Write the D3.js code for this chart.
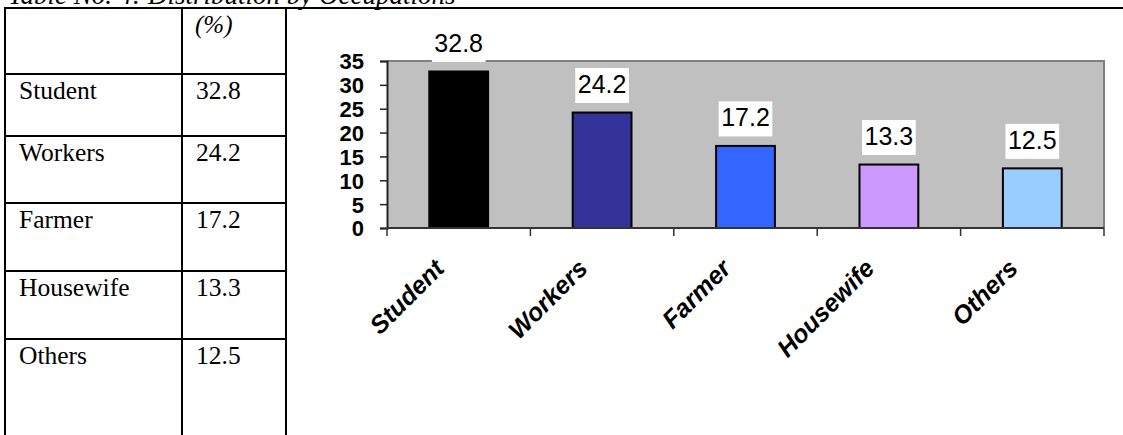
<!DOCTYPE html>
<html>
<head>
<meta charset="utf-8">
<script src="https://cdn.jsdelivr.net/npm/d3@7"></script>
<style>
html,body{margin:0;padding:0;background:#fff;}
svg{display:block;}
</style>
</head>
<body>
<svg id="chart" width="1123" height="435"></svg>
<script>
const titleText = "Table No. 4: Distribution by Occupations";
const unitLabel = "(%)";
const categories = ["Student", "Workers", "Farmer", "Housewife", "Others"];
const values = [32.8, 24.2, 17.2, 13.3, 12.5];
const barColors = ["#000000", "#333399", "#3366FF", "#CC99FF", "#99CCFF"];
const yTicks = [0, 5, 10, 15, 20, 25, 30, 35];

const svg = d3.select("#chart");
const serif = "'Liberation Serif','Times New Roman',serif";
const sans = "'Liberation Sans',Arial,sans-serif";

// ---------- title (mostly above the top edge, as in the reference) ----------
svg.append("text")
  .attr("x", 8).attr("y", 4)
  .attr("font-family", serif)
  .attr("font-style", "italic")
  .attr("font-size", 27)
  .attr("fill", "#000")
  .text(titleText);

// ---------- table ----------
const tableTop = 8, tableLeft = 5, colDiv = 182, colRight = 286;
const rowLines = [74, 136, 203, 271, 339];

svg.append("line").attr("x1", tableLeft - 1).attr("x2", 1123)
  .attr("y1", tableTop).attr("y2", tableTop)
  .attr("stroke", "#000").attr("stroke-width", 2);
[tableLeft, colDiv, colRight].forEach(x => {
  svg.append("line").attr("x1", x).attr("x2", x)
    .attr("y1", tableTop).attr("y2", 435)
    .attr("stroke", "#000").attr("stroke-width", 2);
});
rowLines.forEach(y => {
  svg.append("line").attr("x1", tableLeft).attr("x2", colRight)
    .attr("y1", y).attr("y2", y)
    .attr("stroke", "#000").attr("stroke-width", 2);
});
svg.append("text").attr("x", 195).attr("y", 33)
  .attr("font-family", serif).attr("font-style", "italic")
  .attr("font-size", 25).text(unitLabel);

categories.forEach((c, i) => {
  const base = rowLines[i] + 24.5;
  svg.append("text").attr("x", 19).attr("y", base)
    .attr("font-family", serif).attr("font-size", 25.5).text(c);
  svg.append("text").attr("x", 196).attr("y", base)
    .attr("font-family", serif).attr("font-size", 25.5).text(values[i].toFixed(1));
});

// ---------- chart ----------
const plot = {left: 387, right: 1104, top: 61, bottom: 228};

const x = d3.scaleBand().domain(categories)
  .range([plot.left, plot.right])
  .paddingInner(0.59).paddingOuter(0.295);
const y = d3.scaleLinear().domain([0, 35]).range([plot.bottom, plot.top]);

svg.append("rect")
  .attr("x", plot.left).attr("y", plot.top)
  .attr("width", plot.right - plot.left).attr("height", plot.bottom - plot.top)
  .attr("fill", "#C0C0C0");
svg.append("path")
  .attr("d", `M${plot.left},${plot.top}H${plot.right}V${plot.bottom}`)
  .attr("fill", "none").attr("stroke", "#808080").attr("stroke-width", 2);

svg.selectAll("rect.bar").data(categories).enter().append("rect")
  .attr("class", "bar")
  .attr("x", d => x(d))
  .attr("width", x.bandwidth())
  .attr("y", (d, i) => y(values[i]))
  .attr("height", (d, i) => y(0) - y(values[i]))
  .attr("fill", (d, i) => barColors[i])
  .attr("stroke", "#000").attr("stroke-width", 2);

const yAxis = d3.axisLeft(y).tickValues(yTicks).tickSize(7).tickPadding(16);
const gy = svg.append("g").attr("transform", `translate(${plot.left},0)`).call(yAxis);
gy.select(".domain").attr("stroke", "#222").attr("stroke-width", 2);
gy.selectAll(".tick line").attr("stroke", "#222").attr("stroke-width", 1.5);
gy.selectAll(".tick text")
  .attr("font-family", sans).attr("font-weight", "bold").attr("font-size", 22)
  .attr("fill", "#000").attr("dy", "0.36em");

const step = x.step();
const bounds = categories.map(c => x(c) - step * x.paddingInner() / 2).concat([plot.right]);
svg.append("line").attr("x1", plot.left).attr("x2", plot.right)
  .attr("y1", plot.bottom).attr("y2", plot.bottom)
  .attr("stroke", "#333").attr("stroke-width", 2);
svg.selectAll("line.xtick").data(bounds).enter().append("line")
  .attr("class", "xtick")
  .attr("x1", d => d).attr("x2", d => d)
  .attr("y1", plot.bottom).attr("y2", plot.bottom + 8)
  .attr("stroke", "#333").attr("stroke-width", 1.5);

svg.selectAll("text.xlab").data(categories).enter().append("text")
  .attr("class", "xlab")
  .attr("transform", d => `translate(${x(d) + x.bandwidth() / 2 - 13},270) rotate(-45)`)
  .attr("text-anchor", "end")
  .attr("font-family", sans).attr("font-weight", "bold").attr("font-style", "italic")
  .attr("font-size", 25).attr("fill", "#000")
  .text(d => d);

const fs = 25;
const lab = svg.selectAll("g.vlab").data(categories).enter().append("g").attr("class", "vlab");
lab.each(function(d, i) {
  const g = d3.select(this);
  const cx = x(d) + x.bandwidth() / 2;
  const boxBottom = y(values[i]) - 9.5;
  const baseline = boxBottom - 10;
  const t = g.append("text")
    .attr("x", cx).attr("y", baseline)
    .attr("text-anchor", "middle")
    .attr("font-family", sans).attr("font-size", fs).attr("fill", "#000")
    .text(values[i].toFixed(1));
  const w = t.node().getComputedTextLength() + 5;
  g.insert("rect", "text")
    .attr("x", cx - w / 2).attr("y", boxBottom - 35)
    .attr("width", w).attr("height", 35)
    .attr("fill", "#fff");
});
</script>
</body>
</html>
